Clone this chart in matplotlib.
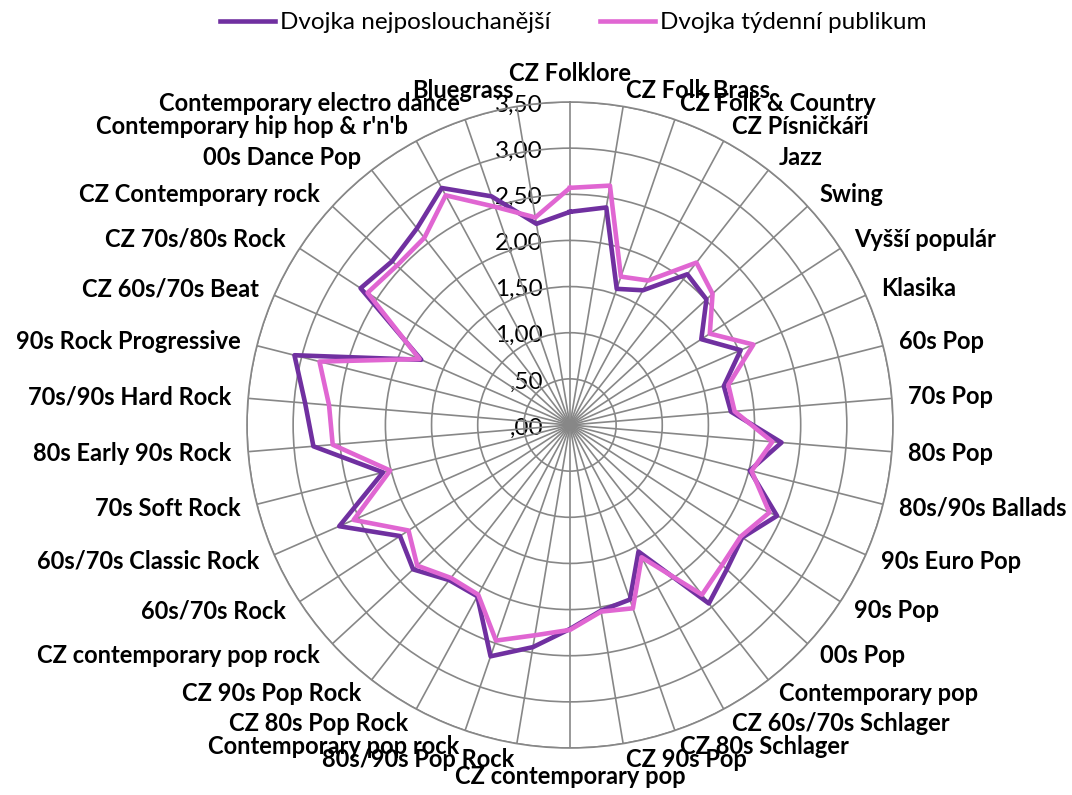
# -*- coding: utf-8 -*-
"""
Radar chart - Dvojka, oblibenost zanru
"""

# %% importerer pakker

import numpy as np
import matplotlib.pyplot as plt
from matplotlib.transforms import offset_copy


# %% Def variabler

kategorie = ["CZ Folklore", "CZ Folk Brass", "CZ Folk & Country", "CZ Písničkáři",
             "Jazz", "Swing", "Vyšší populár", "Klasika", "60s Pop", "70s Pop",
             "80s Pop", "80s/90s Ballads", "90s Euro Pop", "90s Pop", "00s Pop",
             "Contemporary pop", "CZ 60s/70s Schlager", "CZ 80s Schlager",
             "CZ 90s Pop", "CZ contemporary pop", "80s/90s Pop Rock",
             "Contemporary pop rock", "CZ 80s Pop Rock", "CZ 90s Pop Rock",
             "CZ contemporary pop rock", "60s/70s Rock", "60s/70s Classic Rock",
             "70s Soft Rock", "80s Early 90s Rock", "70s/90s Hard Rock",
             "90s Rock Progressive", "CZ 60s/70s Beat", "CZ 70s/80s Rock",
             "CZ Contemporary rock", "00s Dance Pop", "Contemporary hip hop & r'n'b",
             "Contemporary electro dance", "Bluegrass"]

nejposlouchanejsi = [2.31, 2.39, 1.56, 1.66, 2.07, 2.01, 1.70, 2.02, 1.72, 1.75,
                     2.30, 2.01, 2.45, 2.23, 2.31, 2.45, 1.56, 2.00, 2.04, 2.21,
                     2.44, 2.65, 2.11, 2.13, 2.31, 2.20, 2.73, 2.09, 2.79, 2.88,
                     3.08, 1.76, 2.71, 2.62, 2.70, 2.92, 2.62, 2.21]

tydenni = [2.57, 2.63, 1.70, 1.78, 2.23, 2.10, 1.81, 2.17, 1.77, 1.79,
           2.20, 2.03, 2.36, 2.21, 2.24, 2.33, 1.63, 2.10, 2.05, 2.22,
           2.31, 2.47, 2.09, 2.10, 2.25, 2.09, 2.56, 2.01, 2.58, 2.62,
           2.80, 1.78, 2.62, 2.55, 2.57, 2.83, 2.50, 2.28]

serie = ["Dvojka nejposlouchanější", "Dvojka týdenní publikum"]
rticks = [0.0, 0.5, 1.0, 1.5, 2.0, 2.5, 3.0, 3.5]

fialova = "#7030A0"
ruzova = "#E066D2"
seda = "#878787"


# %% Def funksjoiner

# 0.5 -> ",50", 1.5 -> "1,50"
def ceskeCislo(v):
    s = "%.2f" % v
    if s.startswith("0"):
        s = s[1:]
    return s.replace(".", ",")


# %% Plot

plt.rcParams['font.family'] = ['Lato', 'DejaVu Sans']

n = len(kategorie)
uhly = np.arange(n) * 2 * np.pi / n
uhly_z = np.append(uhly, uhly[0])

fig = plt.figure(figsize=(10.72, 7.95), dpi=100)
ax = fig.add_axes([0.2304, 0.0591, 0.6026, 0.8126], projection="polar")
ax.set_theta_zero_location("N")
ax.set_theta_direction(-1)

ax.plot(uhly_z, np.append(nejposlouchanejsi, nejposlouchanejsi[0]),
        color=fialova, lw=3.3, zorder=4, label=serie[0])
ax.plot(uhly_z, np.append(tydenni, tydenni[0]),
        color=ruzova, lw=3.3, zorder=5, label=serie[1])

ax.set_ylim(0, 3.5)
ax.set_yticks(rticks)
ax.set_yticklabels([])
ax.set_xticks(uhly)
ax.set_xticklabels([])
ax.grid(True, color=seda, lw=1.2)
ax.spines["polar"].set_color(seda)
ax.spines["polar"].set_linewidth(1.2)

# osove popisky vlevo od svisle osy
trans = offset_copy(ax.transData, fig=fig, x=-27, y=-3, units="dots")
for r in rticks:
    ax.text(0, r, ceskeCislo(r), transform=trans, ha="right", va="center",
            fontsize=17.5, color="black", zorder=1)

# popisky kategorii
for i in range(n):
    s = np.sin(uhly[i])
    c = np.cos(uhly[i])
    ha = "center"
    if s > 0.05:
        ha = "left"
    elif s < -0.05:
        ha = "right"
    va = "center"
    if c > 0.99:
        va = "bottom"
    elif c < -0.99:
        va = "top"
    ax.text(uhly[i], 3.68, kategorie[i], ha=ha, va=va, fontsize=17,
            fontweight="bold", color="black")

h, l = ax.get_legend_handles_labels()
fig.legend(h, l, loc="upper center", bbox_to_anchor=(0.535, 1.012), ncol=2,
           frameon=False, fontsize=17.5, handlelength=2.26, handletextpad=0.2,
           columnspacing=2.05)

plt.savefig("out.png", dpi=100)
